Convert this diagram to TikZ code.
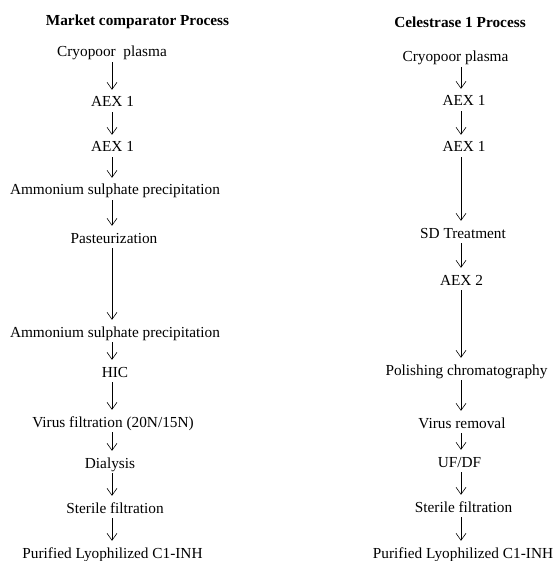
\documentclass[tikz,border=0pt]{standalone}
\usepackage{fontspec}
\setmainfont{Liberation Serif}
\usetikzlibrary{arrows.meta}
\tikzset{>={Straight Barb[length=7pt,width=10pt]}}
\tikzset{
  step box/.style={inner xsep=2pt, inner ysep=5pt, font=\fontsize{15.3}{18}\selectfont, text height=10pt, text depth=0pt},
  head box/.style={inner sep=2pt, font=\fontsize{15.3}{18}\selectfont\bfseries},
  flow/.style={->, line width=0.6pt, shorten >=2pt}
}

\begin{document}
\begin{tikzpicture}[x=1pt, y=-1pt]
        \useasboundingbox (0,0) rectangle (555,561);
        % Market comparator column
        \node[head box] (mtitle) at (137.5,22) {Market comparator Process};
        \node[step box] (m1) at (112,52) {Cryopoor\ \ plasma};
        \node[step box] (m2) at (112.5,102) {AEX 1};
        \node[step box] (m3) at (112.5,147) {AEX 1};
        \node[step box] (m4) at (115,190) {Ammonium sulphate precipitation};
        \node[step box] (m5) at (114,238) {Pasteurization};
        \node[step box] (m6) at (115,332) {Ammonium sulphate precipitation};
        \node[step box] (m7) at (115,372) {HIC};
        \node[step box] (m8) at (113,422) {Virus filtration (20N/15N)};
        \node[step box] (m9) at (110,463) {Dialysis};
        \node[step box] (m10) at (115,508) {Sterile filtration};
        \node[step box] (m11) at (112.5,553) {Purified Lyophilized C1-INH};

        \coordinate (mx) at (112,0);
        \draw [flow] (m1.south -| mx) -- (m2.north -| mx);
        \draw [flow] (m2.south -| mx) -- (m3.north -| mx);
        \draw [flow] (m3.south -| mx) -- (m4.north -| mx);
        \draw [flow] (m4.south -| mx) -- (m5.north -| mx);
        \draw [flow] (m5.south -| mx) -- (m6.north -| mx);
        \draw [flow] (m6.south -| mx) -- (m7.north -| mx);
        \draw [flow] (m7.south -| mx) -- (m8.north -| mx);
        \draw [flow] (m8.south -| mx) -- (m9.north -| mx);
        \draw [flow] (m9.south -| mx) -- (m10.north -| mx);
        \draw [flow] (m10.south -| mx) -- (m11.north -| mx);

        % Celestrase 1 column
        \node[head box] (ctitle) at (460,22) {Celestrase 1 Process};
        \node[step box] (c1) at (455.5,57) {Cryopoor plasma};
        \node[step box] (c2) at (464,101) {AEX 1};
        \node[step box] (c3) at (464,147) {AEX 1};
        \node[step box] (c4) at (463,233) {SD Treatment};
        \node[step box] (c5) at (461.5,280) {AEX 2};
        \node[step box] (c6) at (466.5,370) {Polishing chromatography};
        \node[step box] (c7) at (462,423) {Virus removal};
        \node[step box] (c8) at (459.5,462) {UF/DF};
        \node[step box] (c9) at (463.5,507) {Sterile filtration};
        \node[step box] (c10) at (463,553) {Purified Lyophilized C1-INH};

        \coordinate (cx) at (461,0);
        \draw [flow] (c1.south -| cx) -- (c2.north -| cx);
        \draw [flow] (c2.south -| cx) -- (c3.north -| cx);
        \draw [flow] (c3.south -| cx) -- (c4.north -| cx);
        \draw [flow] (c4.south -| cx) -- (c5.north -| cx);
        \draw [flow] (c5.south -| cx) -- (c6.north -| cx);
        \draw [flow] (c6.south -| cx) -- (c7.north -| cx);
        \draw [flow] (c7.south -| cx) -- (c8.north -| cx);
        \draw [flow] (c8.south -| cx) -- (c9.north -| cx);
        \draw [flow] (c9.south -| cx) -- (c10.north -| cx);
\end{tikzpicture}
\end{document}
